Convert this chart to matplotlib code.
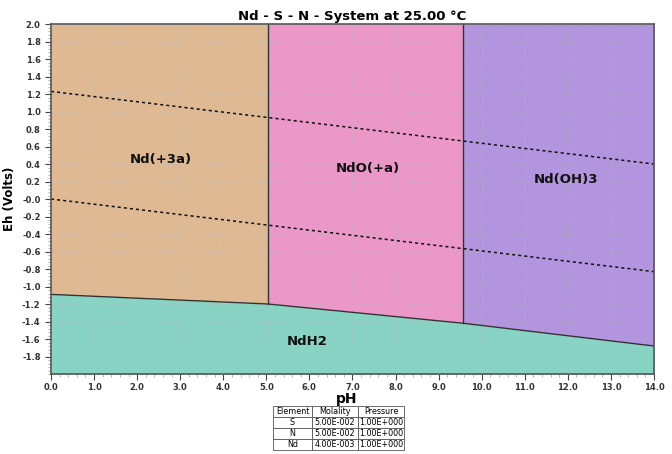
import matplotlib
matplotlib.use("Agg")
import matplotlib.pyplot as plt
import numpy as np
from matplotlib.ticker import MultipleLocator

# Data
ph_v1 = 5.04      # Nd(+3a) / NdO(+a)
ph_v2 = 9.57      # NdO(+a) / Nd(OH)3
hyd_ph = [0.0, 5.04, 9.57, 14.0]
hyd_eh = [-1.09, -1.20, -1.42, -1.68]
water_ph = [0.0, 14.0]
water_upper = [1.23, 0.40]
water_lower = [0.0, -0.83]
labels = ["Nd(+3a)", "NdO(+a)", "Nd(OH)3", "NdH2"]
label_pos = [(2.55, 0.45), (7.35, 0.35), (11.95, 0.22), (5.95, -1.63)]
colors = ["#DEB994", "#EB97C8", "#B395DF", "#88D3C3"]
table_rows = [["S", "5.00E-002", "1.00E+000"],
              ["N", "5.00E-002", "1.00E+000"],
              ["Nd", "4.00E-003", "1.00E+000"]]
table_cols = ["Element", "Molality", "Pressure"]

fig = plt.figure(figsize=(6.72, 4.54), dpi=100)
ax = fig.add_axes([0.0759, 0.1762, 0.8973, 0.7709])
ymax, ymin = 2.0, -2.0

def hy(x):
    return np.interp(x, hyd_ph, hyd_eh)

# regions
x1 = np.array([0.0, ph_v1])
ax.fill_between(x1, hy(x1), ymax, color=colors[0], lw=0)
x2 = np.array([ph_v1, ph_v2])
ax.fill_between(x2, hy(x2), ymax, color=colors[1], lw=0)
x3 = np.array([ph_v2, 14.0])
ax.fill_between(x3, hy(x3), ymax, color=colors[2], lw=0)
ax.fill_between(hyd_ph, hyd_eh, ymin, color=colors[3], lw=0)

# boundaries
ax.plot(hyd_ph, hyd_eh, color="#333333", lw=1.0)
ax.plot([ph_v1, ph_v1], [hy(ph_v1), ymax], color="#333333", lw=1.0)
ax.plot([ph_v2, ph_v2], [hy(ph_v2), ymax], color="#333333", lw=1.0)

# water lines
ax.plot(water_ph, water_upper, color="#111111", lw=1.1, ls=(0, (2, 2)))
ax.plot(water_ph, water_lower, color="#111111", lw=1.1, ls=(0, (2, 2)))

for lab, (px, py) in zip(labels, label_pos):
    ax.text(px, py, lab, ha="center", va="center", fontsize=9.5, fontweight="bold", color="#111111")

ax.set_xlim(0, 14)
ax.set_ylim(ymin, ymax)
ax.xaxis.set_major_locator(MultipleLocator(1.0))
ax.xaxis.set_minor_locator(MultipleLocator(0.2))
ax.yaxis.set_major_locator(MultipleLocator(0.2))
ax.yaxis.set_minor_locator(MultipleLocator(0.04))
xt = np.arange(0, 15, 1.0)
ax.set_xticks(xt)
ax.set_xticklabels([f"{v:.1f}" for v in xt])
yt = np.round(np.arange(-1.8, 2.01, 0.2), 1)
ax.set_yticks(yt)
ax.set_yticklabels([f"{v:.1f}" for v in yt])
ax.tick_params(axis="both", which="major", labelsize=6, colors="#444444", length=4, width=0.8)
ax.tick_params(axis="x", which="major", pad=2.5)
ax.tick_params(axis="both", which="minor", length=2, width=0.5, colors="#999999")
for lbl in ax.get_xticklabels() + ax.get_yticklabels():
    lbl.set_fontweight("bold")
    lbl.set_color("#333333")
ax.grid(True, which="major", color="#bbbbbb", lw=0.5, ls=(0, (1, 2)), alpha=0.7)
for s in ax.spines.values():
    s.set_color("#555555")
    s.set_linewidth(1.2)

ax.set_ylabel("Eh (Volts)", fontsize=8.5, fontweight="bold", labelpad=4)
ax.set_title("Nd - S - N - System at 25.00 °C", fontsize=9.5, fontweight="bold", pad=3)
fig.text(347 / 672, 1 - 392 / 454, "pH", ha="center", va="top", fontsize=10, fontweight="bold")

# table
tax = fig.add_axes([0.406, 0.009, 0.195, 0.097])
tax.axis("off")
tbl = tax.table(cellText=table_rows, colLabels=table_cols, loc="center", cellLoc="center",
                colWidths=[0.3, 0.35, 0.35], bbox=[0, 0, 1, 1])
tbl.auto_set_font_size(False)
tbl.set_fontsize(5.8)
for (r, c), cell in tbl.get_celld().items():
    cell.set_linewidth(0.6)
    cell.set_edgecolor("#555555")

fig.savefig("out.png", dpi=100)
